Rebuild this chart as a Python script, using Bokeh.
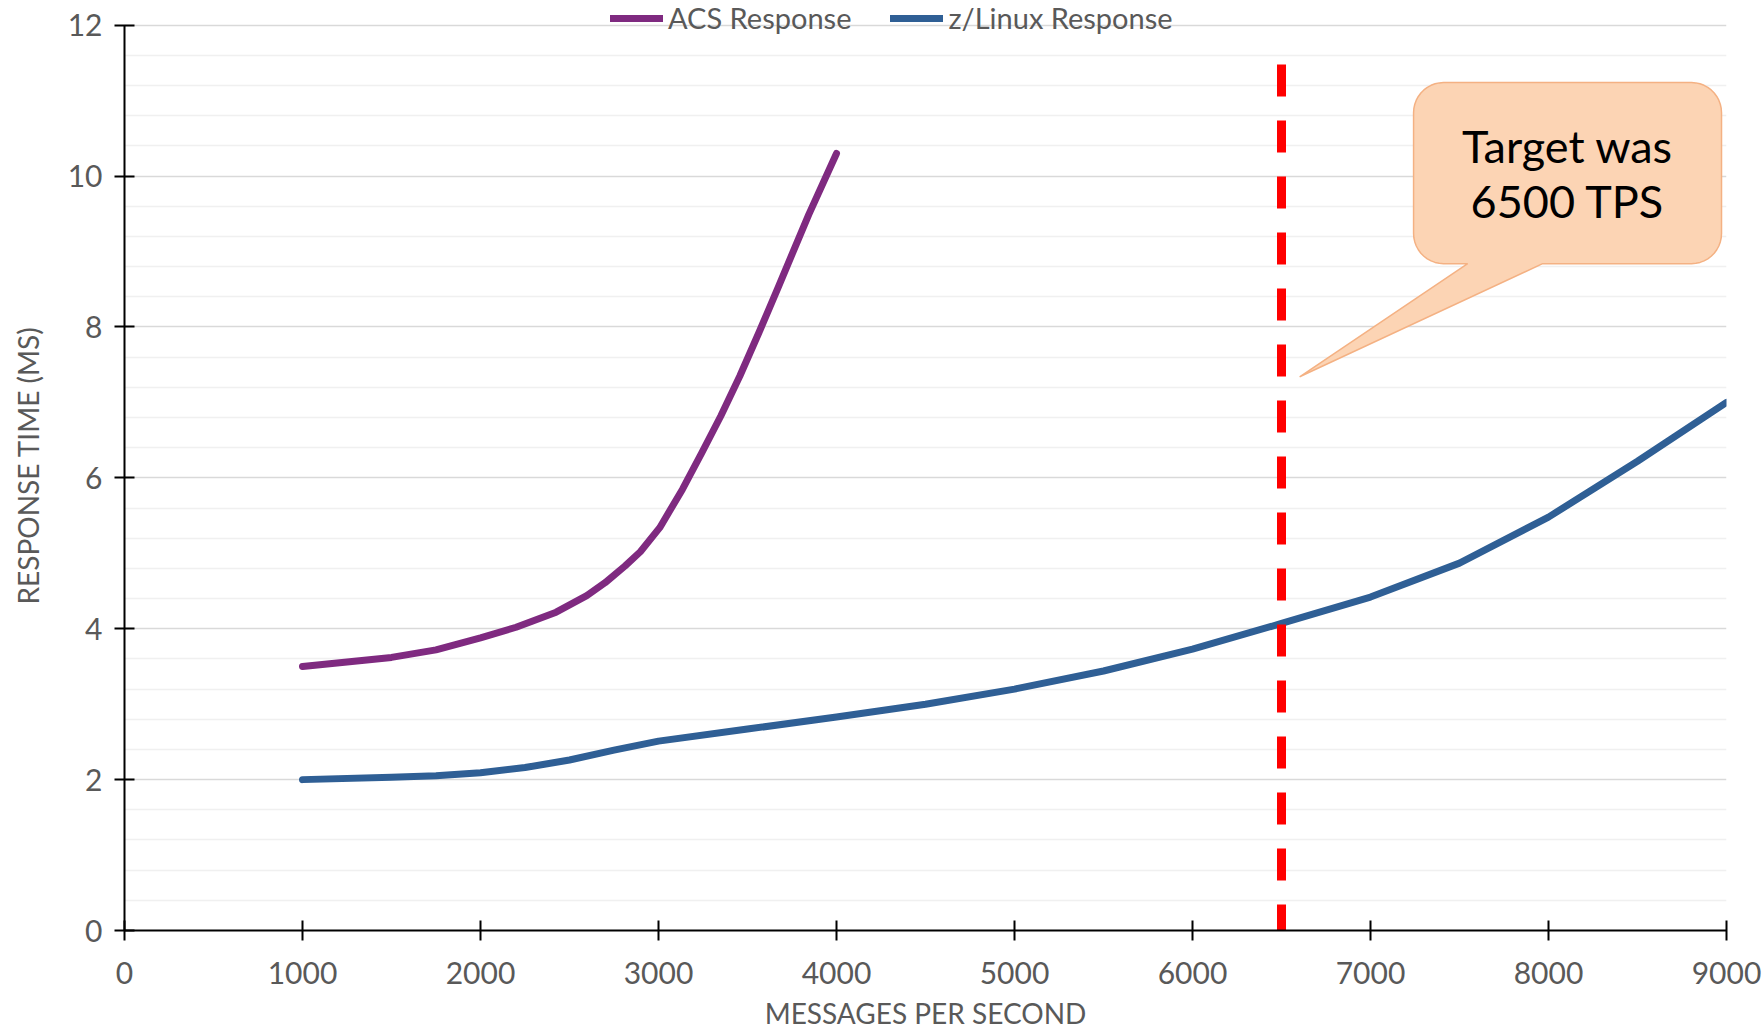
import numpy as np
from bokeh.plotting import figure
from bokeh.models import Range1d, FixedTicker, Legend, LegendItem
from bokeh.core.properties import value
from bokeh.embed import file_html
from bokeh.resources import INLINE

# ---------------- data ----------------
acs_x = [1000, 1250, 1500, 1750, 2000, 2200, 2425, 2597, 2700, 2811, 2898, 3007,
         3135, 3243, 3350, 3457, 3565, 3673, 3844, 4000]
acs_y = [3.50, 3.56, 3.62, 3.72, 3.88, 4.02, 4.22, 4.44, 4.61, 4.83, 5.02, 5.34,
         5.85, 6.33, 6.82, 7.35, 7.93, 8.53, 9.49, 10.30]

zlinux_x = [1000, 1500, 1750, 2000, 2250, 2500, 2750, 3000, 3500, 4000, 4500, 5000,
            5500, 6000, 6500, 7000, 7500, 8000, 8500, 9000]
zlinux_y = [2.00, 2.03, 2.05, 2.09, 2.16, 2.26, 2.39, 2.51, 2.67, 2.83, 3.00, 3.20,
            3.44, 3.73, 4.07, 4.42, 4.87, 5.48, 6.22, 7.00]

series_names = ["ACS Response", "z/Linux Response"]
x_ticks = [0, 1000, 2000, 3000, 4000, 5000, 6000, 7000, 8000, 9000]
y_ticks = [0, 2, 4, 6, 8, 10, 12]
y_minor = [0.4, 0.8, 1.2, 1.6, 2.4, 2.8, 3.2, 3.6, 4.4, 4.8, 5.2, 5.6, 6.4, 6.8,
           7.2, 7.6, 8.4, 8.8, 9.2, 9.6, 10.4, 10.8, 11.2, 11.6]
Y_MAX = 12
Y_VIEW_TOP = 12.328   # headroom above the axis so the legend fits above 12

TARGET_TPS = 6500
TARGET_TOP = 11.48
callout_lines = ["Target was", "6500 TPS"]

# callout geometry (data units)
CALLOUT_X0, CALLOUT_X1 = 7242, 8972
CALLOUT_Y0, CALLOUT_Y1 = 8.84, 11.24
CALLOUT_RX, CALLOUT_RY = 168, 0.40
CALLOUT_BASE_L, CALLOUT_BASE_R = 7546, 7967
CALLOUT_TIP_X, CALLOUT_TIP_Y = 6602, 7.34
CALLOUT_TEXT_Y = [10.405, 9.675]

FONT = "Lato"
GREY = "#595959"

p = figure(width=1763, height=1033, output_backend="svg", toolbar_location=None,
           x_range=Range1d(0, 9000), y_range=Range1d(0, Y_VIEW_TOP),
           min_border_left=124, min_border_right=37, min_border_top=0,
           min_border_bottom=103)
p.outline_line_color = None
p.background_fill_color = "white"
p.border_fill_color = "white"

xt = FixedTicker(ticks=x_ticks)
yt = FixedTicker(ticks=y_ticks, minor_ticks=y_minor)
p.xaxis.ticker = xt
p.yaxis.ticker = yt
p.yaxis.bounds = (0, Y_MAX)
p.xgrid.visible = False
p.ygrid.ticker = yt
p.ygrid.grid_line_color = "#d9d9d9"
p.ygrid.grid_line_width = 1.5
p.ygrid.minor_grid_line_color = "#f0f0f0"
p.ygrid.minor_grid_line_width = 1.5

for ax in (p.xaxis[0], p.yaxis[0]):
    ax.axis_line_color = "black"
    ax.axis_line_width = 2
    ax.major_tick_line_color = "black"
    ax.major_tick_line_width = 2
    ax.major_tick_in = 10
    ax.major_tick_out = 10
    ax.minor_tick_in = 0
    ax.minor_tick_out = 0
    ax.major_label_text_font = FONT
    ax.major_label_text_font_size = "30px"
    ax.major_label_text_color = GREY
    ax.axis_label_text_font = FONT
    ax.axis_label_text_font_size = "28px"
    ax.axis_label_text_color = GREY
    ax.axis_label_text_font_style = "normal"

p.xaxis.axis_label = "MESSAGES PER SECOND"
p.yaxis.axis_label = "RESPONSE TIME (MS)"
p.xaxis.major_label_standoff = 21
p.xaxis.axis_label_standoff = 9
p.yaxis.major_label_standoff = 12
p.yaxis.axis_label_standoff = 20

# callout shape
def arc(cx, cy, a0, a1, n=12):
    t = np.radians(np.linspace(a0, a1, n))
    return list(cx + CALLOUT_RX * np.cos(t)), list(cy + CALLOUT_RY * np.sin(t))

xs, ys = [], []
for (cx, cy, a0, a1) in [(CALLOUT_X0 + CALLOUT_RX, CALLOUT_Y1 - CALLOUT_RY, 180, 90),
                         (CALLOUT_X1 - CALLOUT_RX, CALLOUT_Y1 - CALLOUT_RY, 90, 0),
                         (CALLOUT_X1 - CALLOUT_RX, CALLOUT_Y0 + CALLOUT_RY, 0, -90)]:
    ax_, ay_ = arc(cx, cy, a0, a1)
    xs += ax_; ys += ay_
xs += [CALLOUT_BASE_R, CALLOUT_TIP_X, CALLOUT_BASE_L]
ys += [CALLOUT_Y0, CALLOUT_TIP_Y, CALLOUT_Y0]
ax_, ay_ = arc(CALLOUT_X0 + CALLOUT_RX, CALLOUT_Y0 + CALLOUT_RY, -90, -180)
xs += ax_; ys += ay_
p.patch(xs, ys, fill_color="#fcd4b4", line_color="#f4b183", line_width=1.5)
p.text(x=[(CALLOUT_X0 + CALLOUT_X1) / 2] * 2, y=CALLOUT_TEXT_Y, text=callout_lines,
       text_font=value(FONT), text_font_size="45px", text_color="black",
       text_align="center", text_baseline="alphabetic")

r_acs = p.line(acs_x, acs_y, line_color="#7f2a80", line_width=7,
               line_cap="round", line_join="round")
r_zl = p.line(zlinux_x, zlinux_y, line_color="#2f5f95", line_width=7,
              line_cap="round", line_join="round")

p.line([TARGET_TPS, TARGET_TPS], [TARGET_TOP, 0], line_color="#ff0000",
       line_width=9, line_dash="32 24", line_cap="butt")

legend = Legend(items=[LegendItem(label=series_names[0], renderers=[r_acs]),
                       LegendItem(label=series_names[1], renderers=[r_zl])],
                orientation="horizontal", location=(486, 895))
legend.label_text_font = FONT
legend.label_text_font_size = "29px"
legend.label_text_color = GREY
legend.glyph_width = 53
legend.glyph_height = 20
legend.label_standoff = 5
legend.spacing = 39
legend.padding = 0
legend.margin = 0
legend.border_line_color = None
legend.background_fill_alpha = 0
p.add_layout(legend)

open("out.html", "w").write(file_html(p, INLINE))
